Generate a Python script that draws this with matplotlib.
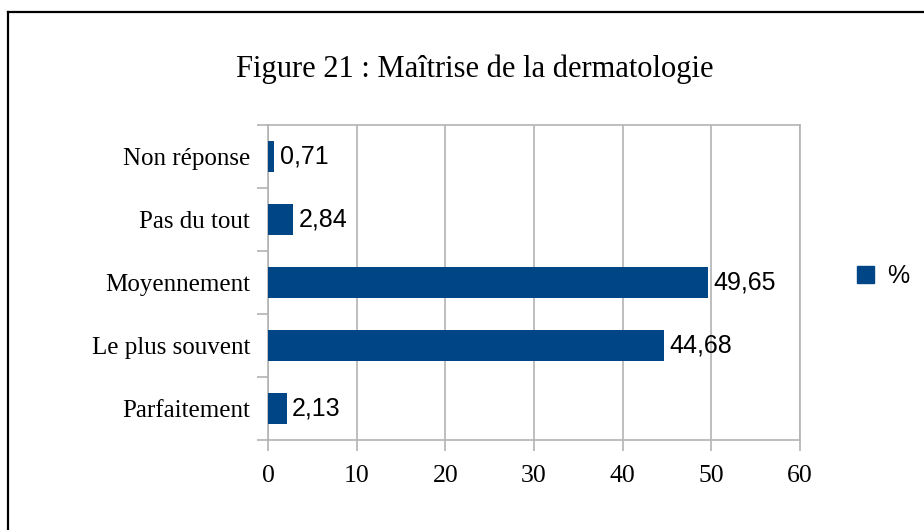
import matplotlib
matplotlib.use("Agg")
import matplotlib.pyplot as plt
from matplotlib.lines import Line2D
from matplotlib.patches import Patch
import numpy as np

# Data (bottom to top as drawn)
categories = ["Parfaitement", "Le plus souvent", "Moyennement", "Pas du tout", "Non réponse"]
values = [2.13, 44.68, 49.65, 2.84, 0.71]
value_labels = ["2,13", "44,68", "49,65", "2,84", "0,71"]
x_ticks = [0, 10, 20, 30, 40, 50, 60]
title = "Figure 21 : Maîtrise de la dermatologie"
series_name = "%"

bar_color = "#004586"
grid_color = "#b3b3b3"
serif = ["Liberation Serif", "DejaVu Serif"]
sans = ["Liberation Sans", "DejaVu Sans"]

W, H = 924, 530
fig = plt.figure(figsize=(W / 100, H / 100), dpi=100)
ax = fig.add_axes([268 / W, 1 - 440 / H, (800 - 268) / W, (440 - 125) / H])

y = np.arange(len(categories))
bars = ax.barh(y, values, height=0.5, color=bar_color, zorder=3)

ax.set_xlim(0, 60)
ax.set_ylim(-0.5, len(categories) - 0.5)
ax.set_xticks(x_ticks)
ax.set_xticklabels([str(t) for t in x_ticks], fontfamily=serif, fontsize=18.5)

# category labels at centres, ticks at boundaries
ax.set_yticks(y)
ax.set_yticklabels(categories, fontfamily=serif, fontsize=18)
ax.set_yticks(np.arange(len(categories) + 1) - 0.5, minor=True)
ax.tick_params(axis="y", which="major", length=0, pad=13)
ax.tick_params(axis="y", which="minor", length=8, width=1.2, color=grid_color)
ax.tick_params(axis="x", which="major", length=8, width=1.2, color=grid_color, pad=10)

ax.grid(axis="x", color=grid_color, linewidth=1.2, zorder=0)
for s in ax.spines.values():
    s.set_color(grid_color)
    s.set_linewidth(1.2)

# value labels
for b, lab in zip(bars, value_labels):
    ax.text(b.get_width() + 0.6, b.get_y() + b.get_height() / 2, lab,
            va="center", ha="left", fontfamily=sans, fontsize=18, color="black")

fig.text(475 / W, 1 - 69 / H, title, ha="center", va="center",
         fontfamily=serif, fontsize=22)

handle = Patch(facecolor=bar_color, edgecolor=bar_color)
fig.legend([handle], [series_name], loc="center", bbox_to_anchor=(883 / W, 1 - 276 / H),
           frameon=False, prop={"family": sans, "size": 18},
           handlelength=0.7, handleheight=0.7, handletextpad=0.5)

# outer frame (only top and left edges are visible)
fig.add_artist(Line2D([8 / W, 1.0], [1 - 12 / H, 1 - 12 / H], color="black", linewidth=1.6,
                      transform=fig.transFigure))
fig.add_artist(Line2D([8 / W, 8 / W], [0.0, 1 - 12 / H], color="black", linewidth=1.6,
                      transform=fig.transFigure))

fig.savefig("out.png", dpi=100, facecolor="white")
